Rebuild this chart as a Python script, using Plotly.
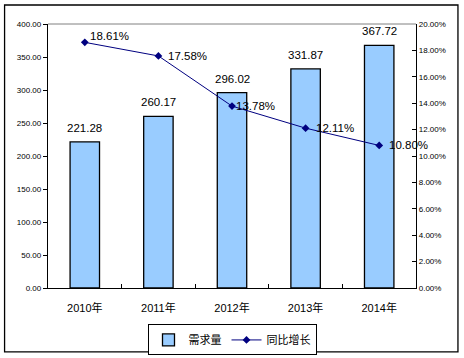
import plotly.graph_objects as go

years = ["2010年", "2011年", "2012年", "2013年", "2014年"]
demand = [221.28, 260.17, 296.02, 331.87, 367.72]
growth = [0.1861, 0.1758, 0.1378, 0.1211, 0.1080]

FONT = "Liberation Sans, Arial, Noto Sans CJK SC, sans-serif"

fig = go.Figure()
fig.add_trace(go.Bar(
    x=years, y=demand, name="需求量", width=0.4,
    marker=dict(color="#99CCFF", line=dict(color="#000000", width=1.3)),
    yaxis="y",
))
fig.add_trace(go.Scatter(
    x=years, y=growth, name="同比增长", mode="lines+markers",
    line=dict(color="#000080", width=1),
    marker=dict(symbol="diamond", size=6, color="#000080"),
    yaxis="y2",
))

ann = []
for xv, v in zip(years, demand):
    ann.append(dict(x=xv, y=v, xref="x", yref="y", text=f"{v:.2f}", showarrow=False,
                    xanchor="center", yanchor="middle", yshift=14,
                    font=dict(family=FONT, size=11.5, color="#000000")))
offs = [(3, 6), (8, 0), (2, 0), (8, 0), (8, 0)]
for (xv, g), (dx, dy) in zip(zip(years, growth), offs):
    ann.append(dict(x=xv, y=g, xref="x", yref="y2", text=f"{g*100:.2f}%", showarrow=False,
                    xanchor="left", yanchor="middle", xshift=dx, yshift=dy,
                    font=dict(family=FONT, size=11.5, color="#000000")))

fig.update_layout(
    width=464, height=358,
    margin=dict(l=48, r=48, t=24, b=70, autoexpand=False),
    paper_bgcolor="white", plot_bgcolor="white",
    font=dict(family=FONT, color="#000000"),
    bargap=0.6,
    xaxis=dict(type="category", range=[-0.5, 4.5], showline=True, linecolor="#000000", linewidth=1.3,
               ticks="inside", tickson="boundaries", ticklen=4, tickcolor="#000000",
               showgrid=False, ticklabelstandoff=10, automargin=False,
               tickfont=dict(family=FONT, size=11, color="#000000")),
    yaxis=dict(range=[0, 400], dtick=50, tickformat=".2f", showline=True, linecolor="#000000",
               linewidth=1.3, ticks="outside", ticklen=4, tickcolor="#000000", showgrid=False,
               zeroline=False, automargin=False, tickfont=dict(family=FONT, size=8, color="#000000")),
    yaxis2=dict(range=[0, 0.2], dtick=0.02, tickformat=".2%", overlaying="y", side="right",
                showline=True, linecolor="#000000", linewidth=1.3, ticks="inside", ticklen=4,
                tickcolor="#000000", showgrid=False, zeroline=False, automargin=False,
                tickfont=dict(family=FONT, size=8, color="#000000")),
    legend=dict(orientation="h", x=0.5, xanchor="center", y=-0.138, yanchor="top",
                bordercolor="#000000", borderwidth=1, bgcolor="white",
                font=dict(family=FONT, size=11, color="#000000"),
                itemwidth=30, tracegroupgap=0),
    annotations=ann,
    shapes=[
        dict(type="line", xref="paper", yref="paper", x0=0, x1=1, y0=1, y1=1,
             line=dict(color="#808080", width=1)),
        dict(type="rect", xref="paper", yref="paper", x0=-0.118, x1=1.114, y0=-0.242, y1=1.072,
             line=dict(color="#000000", width=1.3)),
    ],
)

fig.write_html("out.html", config={"displayModeBar": False},
               post_script="document.body.style.margin='0';")
